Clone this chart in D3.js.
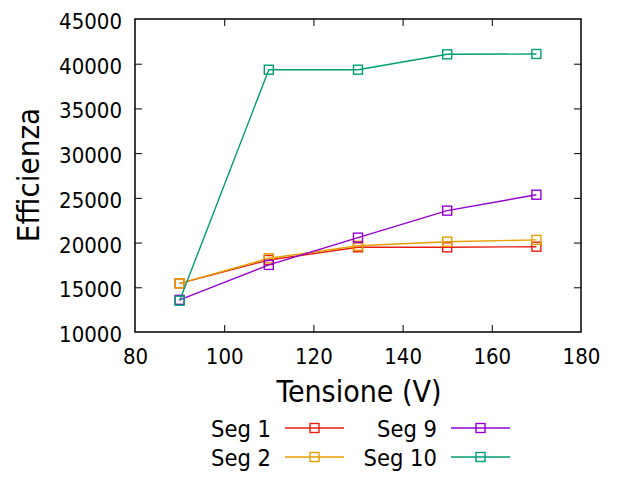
<!DOCTYPE html>
<html><head><meta charset="utf-8">
<script src="https://cdn.jsdelivr.net/npm/d3@7"></script>
<style>html,body{margin:0;padding:0;background:#fff;}svg{display:block;font-family:"DejaVu Sans Condensed","DejaVu Sans",sans-serif;font-stretch:condensed;}</style>
</head><body>
<svg id="c" width="617" height="477"></svg>
<script>
const tensione = [90, 110, 130, 150, 170];
const seriesNames = ["Seg 1", "Seg 2", "Seg 9", "Seg 10"];
const seg1 = [15440, 18050, 19470, 19470, 19540];
const seg2 = [15440, 18240, 19640, 20100, 20300];
const seg9 = [13600, 17500, 20550, 23570, 25350];
const seg10 = [13500, 39330, 39330, 41050, 41090];
const colors = ["#e51e10", "#e69f00", "#9400d3", "#009e73"];
const xTicks = [80, 100, 120, 140, 160, 180];
const yTicks = [10000, 15000, 20000, 25000, 30000, 35000, 40000, 45000];
const xTitle = "Tensione (V)";
const yTitle = "Efficienza";

const allSeries = [seg1, seg2, seg9, seg10];
const svg = d3.select("#c");
const FF = "DejaVu Sans Condensed";
const L = 135, R = 581, T = 19, B = 332;
const x = d3.scaleLinear().domain([80, 180]).range([L, R]);
const y = d3.scaleLinear().domain([10000, 45000]).range([B, T]);
const fs = 22;
const lfs = 23.5;

const gx = svg.append("g").attr("transform", `translate(0,${B})`)
  .call(d3.axisBottom(x).tickValues(xTicks).tickSize(-7).tickPadding(16.5).tickFormat(d3.format("d")));
const gxt = svg.append("g").attr("transform", `translate(0,${T})`)
  .call(d3.axisTop(x).tickValues(xTicks).tickSize(-7).tickFormat(""));
const gy = svg.append("g").attr("transform", `translate(${L},0)`)
  .call(d3.axisLeft(y).tickValues(yTicks).tickSize(-7).tickPadding(13).tickFormat(d3.format("d")));
const gyr = svg.append("g").attr("transform", `translate(${R},0)`)
  .call(d3.axisRight(y).tickValues(yTicks).tickSize(-7).tickFormat(""));
[gx, gxt, gy, gyr].forEach(g => {
  g.select(".domain").remove();
  g.selectAll(".tick line").attr("stroke", "#000").attr("stroke-width", 1);
  g.selectAll("text").attr("font-size", fs).attr("font-family", FF).attr("fill", "#000");
});
gy.selectAll("text").attr("dy", "0.43em");
[gx, gxt].forEach(g => g.selectAll(".tick").filter(d => d === 80 || d === 180).select("line").remove());
[gy, gyr].forEach(g => g.selectAll(".tick").filter(d => d === 10000 || d === 45000).select("line").remove());

svg.append("rect").attr("x", L).attr("y", T).attr("width", R - L).attr("height", B - T)
  .attr("fill", "none").attr("stroke", "#000").attr("stroke-width", 1.5);

svg.append("text").attr("x", (L + R) / 2 + 1).attr("y", 402).attr("text-anchor", "middle")
  .attr("font-family", FF).attr("font-size", 30).text(xTitle);
svg.append("text").attr("transform", `translate(39,175) rotate(-90)`).attr("text-anchor", "middle")
  .attr("font-family", FF).attr("font-size", 31).text(yTitle);

const line = d3.line().x((d, i) => x(tensione[i])).y(d => y(d));
const ms = 9;
allSeries.forEach((s, k) => {
  svg.append("path").datum(s).attr("d", line).attr("fill", "none")
    .attr("stroke", colors[k]).attr("stroke-width", 1.4);
  svg.selectAll(null).data(s).enter().append("rect")
    .attr("x", (d, i) => x(tensione[i]) - ms / 2).attr("y", d => y(d) - ms / 2)
    .attr("width", ms).attr("height", ms).attr("fill", "none")
    .attr("stroke", colors[k]).attr("stroke-width", 1.4);
});

const legPos = [
  {tx: 271, lx: 285, y: 428},
  {tx: 271, lx: 285, y: 457},
  {tx: 437, lx: 451, y: 428},
  {tx: 437, lx: 451, y: 457}
];
seriesNames.forEach((n, k) => {
  const p = legPos[k];
  svg.append("text").attr("x", p.tx).attr("y", p.y).attr("dy", "0.4em")
    .attr("text-anchor", "end").attr("font-family", FF).attr("font-size", lfs).text(n);
  svg.append("line").attr("x1", p.lx).attr("x2", p.lx + 59).attr("y1", p.y).attr("y2", p.y)
    .attr("stroke", colors[k]).attr("stroke-width", 1.4);
  svg.append("rect").attr("x", p.lx + 29.5 - ms / 2).attr("y", p.y - ms / 2)
    .attr("width", ms).attr("height", ms).attr("fill", "none")
    .attr("stroke", colors[k]).attr("stroke-width", 1.4);
});
</script>
</body></html>
